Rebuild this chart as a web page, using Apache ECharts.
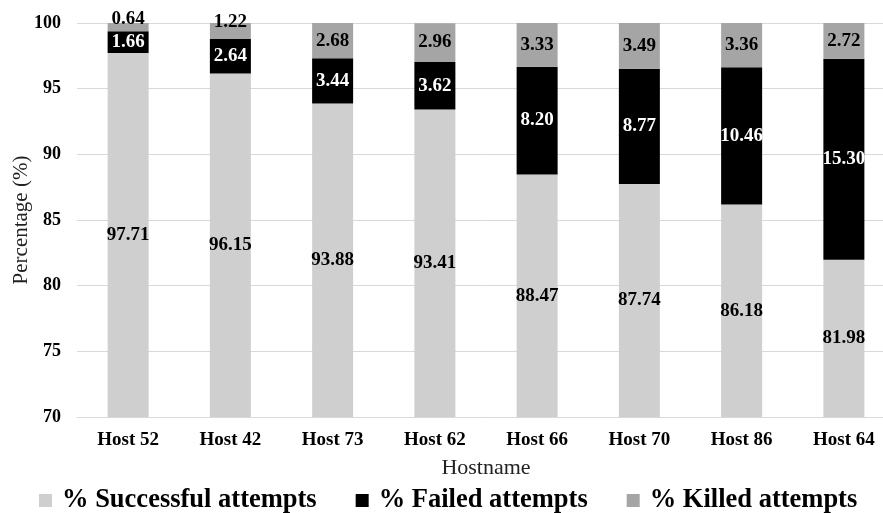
<!DOCTYPE html>
<html>
<head>
<meta charset="utf-8">
<script src="https://cdn.jsdelivr.net/npm/echarts@6/dist/echarts.min.js"></script>
<style>
  html, body { margin: 0; padding: 0; background: #fff; }
  #dom { width: 883px; height: 513px; }
</style>
</head>
<body>
<div id="dom"></div>
<script>
var hosts = ['Host 52', 'Host 42', 'Host 73', 'Host 62', 'Host 66', 'Host 70', 'Host 86', 'Host 64'];
var successful = [97.71, 96.15, 93.88, 93.41, 88.47, 87.74, 86.18, 81.98];
var failed = [1.66, 2.64, 3.44, 3.62, 8.20, 8.77, 10.46, 15.30];
var killed = [0.64, 1.22, 2.68, 2.96, 3.33, 3.49, 3.36, 2.72];
var yTicks = [70, 75, 80, 85, 90, 95, 100];

var font = 'Liberation Serif';
// small top segments get their label pushed up a bit, like in the original
var killedOffsets = [[0, -8], [0, -9], [0, 0], [0, 0], [0, 0], [0, 0], [0, 0], [0, 0]];

function lbl(color) {
  return {
    show: true,
    position: 'inside',
    color: color,
    fontFamily: font,
    fontWeight: 'bold',
    fontSize: 19,
    formatter: function (p) { return p.value.toFixed(2); }
  };
}

var option = {
  animation: false,
  textStyle: { fontFamily: font },
  grid: { left: 77, width: 818, top: 23, height: 394, outerBoundsMode: 'none' },
  legend: {
    top: 482,
    left: 34,
    itemWidth: 23,
    itemHeight: 13,
    itemGap: 39,
    icon: 'path://M0,0H10V10H0Z',
    textStyle: { fontFamily: font, fontWeight: 'bold', fontSize: 26.5, color: '#000' },
    data: ['% Successful attempts', '% Failed attempts', '% Killed attempts']
  },
  xAxis: {
    type: 'category',
    data: hosts,
    name: 'Hostname',
    nameLocation: 'middle',
    nameGap: 40,
    nameTextStyle: { fontFamily: font, fontSize: 22, color: '#222' },
    axisLine: { lineStyle: { color: '#d9d9d9' } },
    axisTick: { show: false },
    axisLabel: { fontFamily: font, fontWeight: 'bold', fontSize: 19, color: '#000', margin: 14 }
  },
  yAxis: {
    type: 'value',
    min: yTicks[0],
    max: yTicks[yTicks.length - 1],
    interval: 5,
    name: 'Percentage (%)',
    nameLocation: 'middle',
    nameGap: 45,
    nameMoveOverlap: false,
    nameTextStyle: { fontFamily: font, fontSize: 21, color: '#222' },
    axisLine: { show: false },
    axisTick: { show: false },
    splitLine: { lineStyle: { color: '#d9d9d9' } },
    axisLabel: { fontFamily: font, fontWeight: 'bold', fontSize: 18, color: '#000', margin: 16 }
  },
  series: [
    {
      name: '% Successful attempts',
      type: 'bar',
      stack: 'all',
      barWidth: 41,
      itemStyle: { color: '#cfcfcf' },
      label: lbl('#000'),
      data: successful
    },
    {
      name: '% Failed attempts',
      type: 'bar',
      stack: 'all',
      itemStyle: { color: '#000' },
      label: lbl('#fff'),
      data: failed
    },
    {
      name: '% Killed attempts',
      type: 'bar',
      stack: 'all',
      itemStyle: { color: '#a5a5a5' },
      label: lbl('#000'),
      data: killed.map(function (v, i) {
        return { value: v, label: { offset: killedOffsets[i] } };
      })
    }
  ]
};

var chart = echarts.init(document.getElementById('dom'));
chart.setOption(option);
</script>
</body>
</html>
